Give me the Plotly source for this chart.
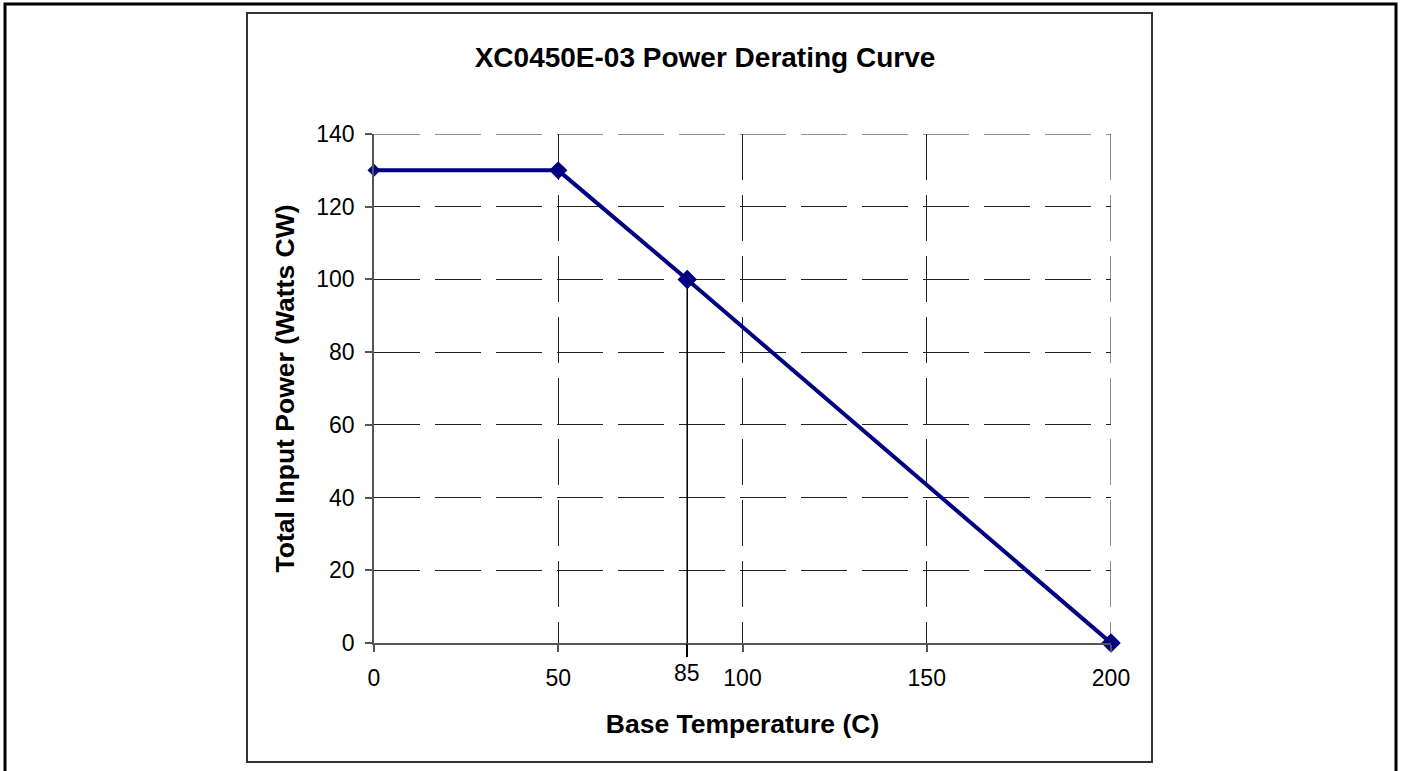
import plotly.graph_objects as go

# Data
temperature = [0, 50, 85, 200]          # Base Temperature (C)
power = [130, 130, 100, 0]              # Total Input Power (Watts CW)
marker_sizes = [10, 14, 15, 15]
drop_x = [85, 85]
drop_y = [0, 100]
x_ticks = [0, 50, 100, 150, 200]
y_ticks = [0, 20, 40, 60, 80, 100, 120, 140]

W, H = 1401, 771
L, R, T, B = 374, 290, 134, 128
pw, ph = W - L - R, H - T - B

def px(xp):
    return (xp - L) / pw

def py(yp):
    return (H - B - yp) / ph

FONT = "Liberation Sans, Arial, sans-serif"
GRID_DASH = "46px,15px"
GRID_COLOR = "#222222"

fig = go.Figure()

fig.add_trace(go.Scatter(
    x=drop_x, y=drop_y, mode="lines",
    line=dict(color="black", width=1.5),
    hoverinfo="skip", showlegend=False,
))

fig.add_trace(go.Scatter(
    x=temperature, y=power, mode="lines+markers",
    line=dict(color="#000080", width=4),
    marker=dict(symbol="diamond", size=marker_sizes, color="#000080",
                opacity=1, line=dict(width=0)),
    cliponaxis=False, showlegend=False, name="Derating",
))

# extra tick mark at 85 (no grid)
fig.add_trace(go.Scatter(x=[85], y=[0], xaxis="x2", mode="markers",
                         marker=dict(opacity=0), hoverinfo="skip", showlegend=False))

fig.update_layout(
    width=W, height=H,
    margin=dict(l=L, r=R, t=T, b=B),
    paper_bgcolor="white", plot_bgcolor="white",
    font=dict(family=FONT, color="black", size=23),
    title=dict(text="<b>XC0450E-03 Power Derating Curve</b>",
               x=705 / W, xanchor="center", xref="container",
               y=1 - 57 / H, yanchor="middle", yref="container",
               font=dict(size=28, family=FONT, color="black")),
    xaxis=dict(
        range=[0, 200], tickvals=x_ticks, ticktext=[str(v) for v in x_ticks],
        showline=True, linecolor="#555555", linewidth=1.5,
        ticks="outside", ticklen=7, tickcolor="#555555", tickwidth=1.5,
        showgrid=True, gridcolor=GRID_COLOR, gridwidth=1, griddash=GRID_DASH,
        zeroline=False, ticklabelstandoff=7,
        title=dict(text="<b>Base Temperature (C)</b>", standoff=24,
                   font=dict(size=26.5, family=FONT)),
        tickfont=dict(size=23, family=FONT),
    ),
    xaxis2=dict(
        range=[0, 200], overlaying="x", anchor="y", side="bottom",
        tickvals=[85], showticklabels=False, ticks="outside", ticklen=13,
        tickcolor="black", tickwidth=1.5, showgrid=False, showline=False,
        zeroline=False,
    ),
    yaxis=dict(
        range=[0, 140], tickvals=y_ticks,
        showline=True, linecolor="#555555", linewidth=1.5,
        ticks="outside", ticklen=7, tickcolor="#555555", tickwidth=1.5,
        showgrid=True, gridcolor=GRID_COLOR, gridwidth=1, griddash=GRID_DASH,
        zeroline=False,
        title=dict(text="<b>Total Input Power (Watts CW)</b>", standoff=14,
                   font=dict(size=26.5, family=FONT)),
        tickfont=dict(size=23, family=FONT),
        ticklabelstandoff=6,
    ),
    shapes=[
        dict(type="rect", xref="paper", yref="paper",
             x0=px(5), x1=px(1396), y0=py(790), y1=py(4),
             line=dict(color="black", width=3), layer="below"),
        dict(type="rect", xref="paper", yref="paper",
             x0=px(247), x1=px(1152), y0=py(762), y1=py(13),
             line=dict(color="#333333", width=2), layer="below"),
        # edge gridlines that plotly drops at the range ends
        dict(type="line", xref="x", yref="y",
             x0=x_ticks[0], x1=x_ticks[-1], y0=y_ticks[-1], y1=y_ticks[-1],
             line=dict(color=GRID_COLOR, width=1, dash=GRID_DASH), layer="below"),
        dict(type="line", xref="x", yref="y",
             x0=x_ticks[-1], x1=x_ticks[-1], y0=y_ticks[-1], y1=y_ticks[0],
             line=dict(color=GRID_COLOR, width=1, dash=GRID_DASH), layer="below"),
    ],
    annotations=[
        dict(text="85", x=85, xref="x", y=py(672.5), yref="paper",
             xanchor="center", yanchor="middle", showarrow=False,
             font=dict(size=23, family=FONT, color="black")),
    ],
)

fig.write_html("out.html",
               config={"displayModeBar": False},
               post_script="document.body.style.margin='0';document.body.style.overflow='hidden';")
